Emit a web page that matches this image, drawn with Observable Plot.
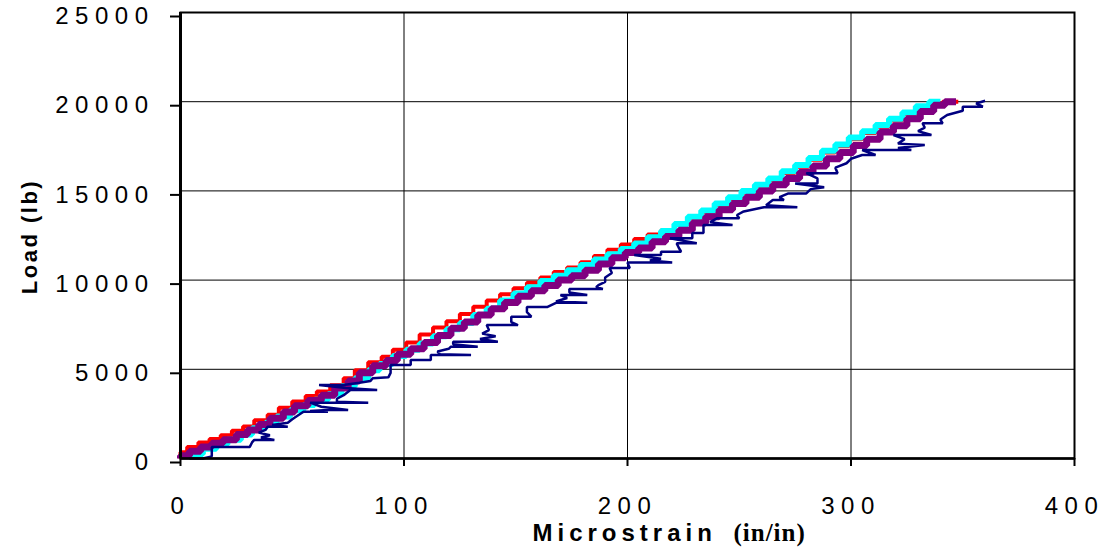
<!DOCTYPE html>
<html>
<head>
<meta charset="utf-8">
<script src="https://cdn.jsdelivr.net/npm/d3@7"></script>
<script src="https://cdn.jsdelivr.net/npm/@observablehq/plot@0.6"></script>
<style>
  body { margin: 0; background: #fff; }
</style>
</head>
<body>
<div id="chart"></div>
<script>
// ---- tick labels ----
const xTicks = [0, 100, 200, 300, 400];
const yTicks = [0, 5000, 10000, 15000, 20000, 25000];
const xTitle = "Microstrain";
const xTitleUnit = "(in/in)";
const yTitle = "Load (lb)";

// ---- series: strain (microstrain) and load (lb) ----
const redStrain = [0,3,8,13,18,23,28,33,39,44,50,56,61,67,73,78,84,90,95,101,107,113,119,125,131,137,143,149,155,161,167,173,179,185,191,197,203,209,215,221,227,233,239,245,251,257,263,269,275,281,287,293,299,305,311,317,323,329,335,341,348];
const redLoad = [0,350,650,900,1100,1300,1550,1800,2150,2450,2850,3200,3500,3750,4100,4500,4950,5400,5700,6100,6500,6950,7350,7700,8100,8500,8850,9200,9550,9850,10150,10450,10700,11000,11350,11700,12000,12300,12550,12800,13100,13450,13800,14200,14550,14900,15250,15600,16000,16350,16750,17150,17500,17900,18250,18600,18950,19300,19650,19900,20000];

const cyanStrain = [5,10,16,21,27,32,38,43,49,55,60,66,72,78,84,89,95,101,107,113,119,125,131,137,143,149,155,161,167,173,179,185,191,197,203,209,215,221,227,233,239,245,251,257,263,269,275,281,287,293,299,305,311,317,323,329,335,340];
const cyanLoad = [0,250,550,800,1050,1350,1700,2000,2350,2700,3000,3300,3600,4050,4500,4950,5300,5750,6100,6450,6850,7250,7600,8050,8400,8850,9250,9600,9950,10250,10550,10850,11150,11450,11750,12050,12400,12750,13150,13550,13900,14300,14650,15000,15350,15700,16100,16450,16850,17250,17600,18000,18350,18700,19050,19400,19750,20000];

const purpleStrain = [0,4,9,14,19,25,30,35,40,46,51,57,63,69,75,80,86,92,97,103,109,115,121,127,133,139,145,151,157,163,169,175,181,187,193,199,205,211,217,223,229,235,241,247,253,259,265,271,277,283,289,295,301,307,313,319,325,331,337,342,347];
const purpleLoad = [0,150,400,650,850,1050,1350,1600,1900,2250,2600,2950,3250,3550,3950,4350,4800,5200,5500,5850,6150,6500,6900,7300,7650,8050,8400,8750,9100,9400,9700,10000,10250,10550,10900,11250,11550,11800,12150,12450,12800,13200,13550,13950,14300,14650,15000,15350,15700,16050,16400,16800,17150,17550,17900,18300,18650,19050,19450,19800,20000];

const navyStrain = [4,10,14,14,31,32,33,42,36,40,35,38,39,48,41,48,50,53,55,66,58,66,75,63,58,84,70,70,73,76,88,74,62,73,80,85,86,93,94,94,103,103,112,112,130,116,115,120,121,133,122,122,142,134,141,135,138,137,151,148,148,157,155,155,164,168,182,168,173,170,182,174,174,189,186,187,190,190,193,192,201,200,220,210,215,203,215,215,224,223,222,231,219,229,229,234,234,247,237,240,250,249,252,261,276,262,265,270,268,272,280,282,288,275,285,285,280,294,293,298,300,305,311,305,327,321,333,321,324,319,336,330,333,332,341,340,343,350,350,359,356,360];
const navyLoad = [0,0,120,650,650,900,1040,1040,1180,1300,1450,1600,1780,1780,1880,2000,2200,2450,2620,2620,2660,2720,2720,2900,3130,3130,3180,3350,3550,3840,3840,3950,4120,4120,4250,4350,4500,4550,4800,5240,5240,5520,5520,5800,5800,5850,6000,6150,6270,6270,6400,6550,6550,6700,6850,7000,7200,7480,7480,7650,7950,7950,8200,8490,8490,8730,8730,8800,9000,9160,9160,9300,9500,9500,9600,9720,9900,10150,10400,10680,10680,10980,10980,11100,11200,11400,11400,11590,11590,11800,12060,12060,12340,12340,12640,12640,13090,13090,13250,13460,13460,13650,13850,14080,14080,14200,14490,14490,14650,14860,14860,15100,15200,15420,15420,15700,15990,15990,16300,16550,16800,17010,17010,17290,17290,17400,17570,17650,17900,18130,18130,18350,18550,18790,18790,19000,19250,19490,19720,19720,19900,20050];

const zip = (xs, ys) => xs.map((x, i) => ({strain: x, load: ys[i]}));
const red = zip(redStrain, redLoad);
const cyan = zip(cyanStrain, cyanLoad);
const purple = zip(purpleStrain, purpleLoad);
const navy = zip(navyStrain, navyLoad);

const font = "'Liberation Sans', Arial, Helvetica, sans-serif";
const stepStyle = {x: "strain", y: "load", curve: "step-before", strokeLinejoin: "miter", strokeLinecap: "butt"};

const chart = Plot.plot({
  width: 1105,
  height: 554,
  marginLeft: 180,
  marginRight: 31,
  marginTop: 12,
  marginBottom: 96,
  style: {fontFamily: font, background: "#fff", color: "#000"},
  x: {domain: [0, 400]},
  y: {domain: [0, 25000]},
  marks: [
    Plot.gridX(xTicks, {stroke: "#000", strokeOpacity: 1, strokeWidth: 1}),
    Plot.gridY(yTicks, {stroke: "#000", strokeOpacity: 1, strokeWidth: 1}),
    Plot.line(red, {...stepStyle, stroke: "#ff0000", strokeWidth: 4}),
    Plot.line(cyan, {...stepStyle, stroke: "#00ffff", strokeWidth: 6}),
    Plot.line(purple, {...stepStyle, stroke: "#800080", strokeWidth: 7}),
    Plot.line(navy, {x: "strain", y: "load", stroke: "#000080", strokeWidth: 2.5, strokeLinejoin: "miter", strokeLinecap: "butt"}),
    Plot.frame({stroke: "#000", strokeWidth: 2}),
    Plot.ruleX([0], {stroke: "#000", strokeWidth: 3}),
    Plot.ruleY([0], {stroke: "#000", strokeWidth: 2.5}),
    Plot.axisX({ticks: xTicks, tickSize: 8, tickPadding: 30, strokeWidth: 2, label: null, tickFormat: d => String(d), fontSize: 24, fill: "#000"}),
    Plot.axisY({ticks: yTicks, tickSize: 10, tickPadding: 16, strokeWidth: 2, label: null, tickFormat: d => String(d), fontSize: 24, dy: 4, fill: "#000"}),
    Plot.text([xTitle], {text: d => d, frameAnchor: "bottom", textAnchor: "start", lineAnchor: "bottom", dx: -95, dy: 82, fontWeight: "bold", fontSize: 24, fill: "#000"}),
    Plot.text([xTitleUnit], {text: d => d, frameAnchor: "bottom", textAnchor: "start", lineAnchor: "bottom", dx: 106, dy: 82, fontWeight: "bold", fontSize: 25, fontFamily: "'Liberation Serif', 'Times New Roman', serif", fill: "#000"}),
    Plot.text([yTitle], {text: d => d, frameAnchor: "left", textAnchor: "middle", lineAnchor: "bottom", rotate: -90, dx: -144, dy: 1, fontWeight: "bold", fontSize: 22, fill: "#000"})
  ]
});

// letter spacing (typographic styling only)
d3.select(chart).selectAll("text").each(function() {
  const t = this.textContent;
  const s = this.style;
  if (/^\d+$/.test(t)) { s.setProperty("letter-spacing", "6.5px"); s.setProperty("font-size", "24px"); }
  else if (t === xTitle) s.setProperty("letter-spacing", "5px");
  else if (t === xTitleUnit) s.setProperty("letter-spacing", "1px");
  else if (t === yTitle) s.setProperty("letter-spacing", "2.5px");
});
document.getElementById("chart").appendChild(chart);
</script>
</body>
</html>
